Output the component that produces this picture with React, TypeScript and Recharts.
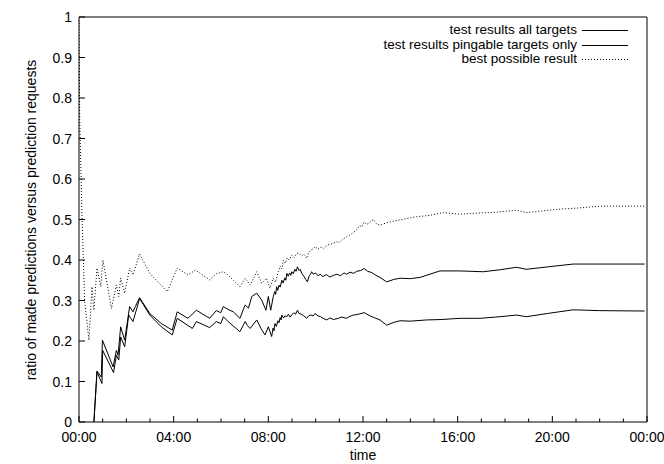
import React from "react";
import { LineChart, Line, XAxis, YAxis, Legend } from "recharts";

// time in hours since 00:00, value = ratio
const ALL_T = [0.63, 0.76, 0.97, 1.0, 1.46, 1.58, 1.68, 1.76, 1.93, 2.1, 2.28, 2.42, 2.56, 2.99, 3.48, 3.94, 4.15, 4.79, 4.96, 5.52, 5.8, 5.99, 6.1, 6.3, 6.8, 7.02, 7.12, 7.23, 7.51, 7.7, 7.86, 8.0, 8.14, 8.2, 8.24, 8.28, 8.34, 8.4, 8.45, 8.5, 8.54, 8.57, 8.64, 8.7, 8.78, 8.85, 8.92, 9.0, 9.08, 9.15, 9.23, 9.3, 9.4, 9.5, 9.62, 9.7, 9.8, 9.9, 9.97, 10.1, 10.2, 10.35, 10.47, 10.6, 10.75, 10.96, 11.1, 11.3, 11.45, 11.59, 11.8, 12.05, 12.3, 12.5, 12.72, 13.0, 13.3, 13.56, 14.0, 14.69, 15.3, 16.1, 16.94, 17.6, 18.49, 18.9, 19.8, 20.88, 22.0, 23.9];
const ALL_V = [0, 0.124, 0.095, 0.177, 0.122, 0.165, 0.153, 0.21, 0.186, 0.264, 0.248, 0.276, 0.305, 0.264, 0.235, 0.215, 0.256, 0.231, 0.248, 0.233, 0.248, 0.243, 0.26, 0.248, 0.223, 0.248, 0.238, 0.231, 0.252, 0.23, 0.215, 0.235, 0.211, 0.232, 0.225, 0.243, 0.236, 0.25, 0.245, 0.258, 0.252, 0.264, 0.257, 0.262, 0.26, 0.266, 0.259, 0.265, 0.27, 0.266, 0.276, 0.268, 0.266, 0.262, 0.256, 0.262, 0.264, 0.262, 0.268, 0.262, 0.26, 0.255, 0.252, 0.257, 0.253, 0.256, 0.259, 0.256, 0.261, 0.264, 0.266, 0.27, 0.262, 0.257, 0.252, 0.239, 0.246, 0.25, 0.249, 0.252, 0.253, 0.256, 0.256, 0.259, 0.264, 0.26, 0.268, 0.277, 0.275, 0.274];

const PING_T = [0.63, 0.76, 0.94, 0.99, 1.44, 1.58, 1.65, 1.76, 1.93, 2.14, 2.28, 2.38, 2.56, 2.99, 3.48, 3.94, 4.15, 4.6, 4.96, 5.52, 5.8, 5.99, 6.1, 6.3, 6.52, 6.8, 7.02, 7.16, 7.3, 7.51, 7.72, 7.9, 8.0, 8.1, 8.21, 8.27, 8.31, 8.35, 8.4, 8.45, 8.5, 8.57, 8.62, 8.7, 8.74, 8.78, 8.84, 8.9, 8.95, 8.99, 9.05, 9.12, 9.17, 9.23, 9.3, 9.35, 9.41, 9.5, 9.58, 9.65, 9.72, 9.78, 9.83, 9.9, 10.0, 10.1, 10.19, 10.3, 10.45, 10.6, 10.75, 10.9, 11.05, 11.2, 11.31, 11.45, 11.6, 11.73, 11.9, 12.05, 12.2, 12.37, 12.55, 12.72, 13.0, 13.3, 13.56, 14.0, 14.41, 15.25, 16.1, 17.08, 17.8, 18.49, 18.9, 19.8, 20.88, 22.0, 23.9];
const PING_V = [0, 0.126, 0.111, 0.202, 0.136, 0.177, 0.165, 0.235, 0.202, 0.285, 0.272, 0.285, 0.307, 0.268, 0.243, 0.227, 0.272, 0.256, 0.276, 0.256, 0.275, 0.27, 0.285, 0.278, 0.272, 0.256, 0.289, 0.281, 0.31, 0.318, 0.301, 0.276, 0.31, 0.276, 0.31, 0.322, 0.315, 0.334, 0.325, 0.338, 0.333, 0.35, 0.343, 0.356, 0.35, 0.367, 0.36, 0.368, 0.362, 0.371, 0.366, 0.377, 0.372, 0.383, 0.374, 0.377, 0.367, 0.36, 0.352, 0.346, 0.36, 0.365, 0.371, 0.365, 0.368, 0.361, 0.365, 0.359, 0.364, 0.358, 0.362, 0.365, 0.361, 0.368, 0.365, 0.37, 0.367, 0.372, 0.374, 0.379, 0.372, 0.369, 0.362, 0.357, 0.346, 0.352, 0.355, 0.354, 0.357, 0.373, 0.373, 0.371, 0.376, 0.382, 0.377, 0.383, 0.39, 0.39, 0.39];

const BEST_T = [0, 0.03, 0.13, 0.24, 0.42, 0.55, 0.63, 0.76, 0.92, 1.01, 1.37, 1.58, 1.68, 1.76, 1.93, 2.14, 2.28, 2.56, 2.99, 3.73, 4.15, 4.6, 4.92, 5.52, 5.8, 6.1, 6.3, 6.8, 7.02, 7.23, 7.51, 7.72, 7.93, 8.07, 8.21, 8.3, 8.42, 8.5, 8.57, 8.64, 8.72, 8.8, 8.88, 8.99, 9.1, 9.18, 9.27, 9.4, 9.5, 9.62, 9.7, 9.8, 9.9, 9.97, 10.1, 10.2, 10.33, 10.5, 10.7, 10.89, 11.0, 11.15, 11.31, 11.45, 11.6, 11.73, 11.85, 11.95, 12.05, 12.15, 12.23, 12.35, 12.44, 12.55, 12.72, 13.0, 13.3, 13.56, 14.27, 14.8, 15.4, 16.1, 16.9, 17.64, 18.49, 18.9, 20.18, 21.0, 22.01, 23.9];
const BEST_V = [1.0, 0.75, 0.5, 0.297, 0.202, 0.334, 0.276, 0.38, 0.334, 0.4, 0.28, 0.338, 0.31, 0.355, 0.318, 0.38, 0.363, 0.415, 0.367, 0.322, 0.38, 0.363, 0.375, 0.351, 0.366, 0.371, 0.363, 0.334, 0.355, 0.338, 0.371, 0.342, 0.355, 0.33, 0.355, 0.345, 0.371, 0.385, 0.378, 0.4, 0.392, 0.405, 0.4, 0.412, 0.406, 0.415, 0.418, 0.41, 0.414, 0.404, 0.418, 0.425, 0.427, 0.433, 0.427, 0.432, 0.429, 0.437, 0.44, 0.445, 0.443, 0.452, 0.457, 0.462, 0.468, 0.474, 0.485, 0.482, 0.494, 0.488, 0.49, 0.497, 0.5, 0.49, 0.486, 0.492, 0.496, 0.499, 0.507, 0.51, 0.517, 0.513, 0.516, 0.518, 0.523, 0.517, 0.525, 0.528, 0.533, 0.533];

const X_TICKS = [0, 1, 2, 3, 4, 5, 6, 7, 8, 9, 10, 11, 12, 13, 14, 15, 16, 17, 18, 19, 20, 21, 22, 23, 24];
const Y_TICKS = [0, 0.1, 0.2, 0.3, 0.4, 0.5, 0.6, 0.7, 0.8, 0.9, 1];

const SERIES = [
  { name: "test results all targets", t: ALL_T, v: ALL_V, dash: undefined },
  { name: "test results pingable targets only", t: PING_T, v: PING_V, dash: undefined },
  { name: "best possible result", t: BEST_T, v: BEST_V, dash: "1 2" },
];

const FONT = "'Liberation Sans', Arial, sans-serif";
const W = 664;
const H = 464;

const fmtTime = (h: number) => `${String(h % 24).padStart(2, "0")}:00`;

const BottomTick = (props: any) => {
  const { x, y, payload } = props;
  const major = payload.value % 4 === 0;
  return (
    <g>
      <line x1={x} x2={x} y1={y} y2={y - (major ? 6 : 3.5)} stroke="#000" />
      {major && (
        <text x={x} y={y + 20} textAnchor="middle" fontSize={14} fontFamily={FONT} fill="#000">
          {fmtTime(payload.value)}
        </text>
      )}
    </g>
  );
};

const TopTick = (props: any) => {
  const { x, y, payload } = props;
  const major = payload.value % 4 === 0;
  return <line x1={x} x2={x} y1={y} y2={y + (major ? 6 : 3.5)} stroke="#000" />;
};

const LeftTick = (props: any) => {
  const { x, y, payload } = props;
  return (
    <g>
      <line x1={x} x2={x + 6} y1={y} y2={y} stroke="#000" />
      <text x={x - 7} y={y} dy="0.36em" textAnchor="end" fontSize={14} fontFamily={FONT} fill="#000">
        {String(payload.value)}
      </text>
    </g>
  );
};

const RightTick = (props: any) => {
  const { x, y } = props;
  return <line x1={x} x2={x - 6} y1={y} y2={y} stroke="#000" />;
};

const renderLegend = () => (
  <div style={{ fontFamily: FONT, fontSize: 13.5, color: "#000" }}>
    {SERIES.map((s) => (
      <div
        key={s.name}
        style={{ display: "flex", justifyContent: "flex-end", alignItems: "center", height: 14.5, lineHeight: "14.5px" }}
      >
        <span style={{ whiteSpace: "nowrap" }}>{s.name}</span>
        <svg width={51} height={14} style={{ display: "block" }}>
          <line x1={5} x2={51} y1={7.5} y2={7.5} stroke="#000" strokeDasharray={s.dash} />
        </svg>
      </div>
    ))}
  </div>
);

export default function App() {
  return (
    <div style={{ position: "relative", width: W, height: H, background: "#fff" }}>
      <style>{"body{margin:0}"}</style>
      <LineChart width={W} height={H} margin={{ top: 16, right: 16, bottom: 41, left: 78 }}>
        <XAxis
          xAxisId="b"
          type="number"
          dataKey="t"
          domain={[0, 24]}
          ticks={X_TICKS}
          interval={0}
          height={1}
          tickSize={0}
          tickMargin={0}
          tickLine={false}
          tick={<BottomTick />}
          stroke="#000"
          allowDataOverflow
        />
        <XAxis
          xAxisId="t"
          orientation="top"
          type="number"
          domain={[0, 24]}
          ticks={X_TICKS}
          interval={0}
          height={1}
          tickSize={0}
          tickMargin={0}
          tickLine={false}
          tick={<TopTick />}
          stroke="#000"
        />
        <YAxis
          yAxisId="l"
          type="number"
          domain={[0, 1]}
          ticks={Y_TICKS}
          interval={0}
          width={1}
          tickSize={0}
          tickMargin={0}
          tickLine={false}
          tick={<LeftTick />}
          stroke="#000"
          allowDataOverflow
        />
        <YAxis
          yAxisId="r"
          orientation="right"
          type="number"
          domain={[0, 1]}
          ticks={Y_TICKS}
          interval={0}
          width={1}
          tickSize={0}
          tickMargin={0}
          tickLine={false}
          tick={<RightTick />}
          stroke="#000"
        />
        {SERIES.map((s) => (
          <Line
            key={s.name}
            xAxisId="b"
            yAxisId="l"
            name={s.name}
            data={s.t.map((t, i) => ({ t, v: s.v[i] }))}
            dataKey="v"
            type="linear"
            stroke="#000"
            strokeWidth={1}
            strokeDasharray={s.dash}
            dot={false}
            activeDot={false}
            isAnimationActive={false}
          />
        ))}
        <Legend
          layout="vertical"
          align="center"
          verticalAlign="middle"
          content={renderLegend}
          wrapperStyle={{ position: "absolute", left: 200, top: 23, width: 428, height: 44 }}
        />
      </LineChart>
      <div
        style={{
          position: "absolute",
          left: 31,
          top: 219.5,
          transform: "translate(-50%, -50%) rotate(-90deg)",
          whiteSpace: "nowrap",
          fontFamily: FONT,
          fontSize: 14,
        }}
      >
        ratio of made predictions versus prediction requests
      </div>
      <div
        style={{
          position: "absolute",
          left: 363,
          top: 447,
          transform: "translateX(-50%)",
          fontFamily: FONT,
          fontSize: 14,
        }}
      >
        time
      </div>
    </div>
  );
}
